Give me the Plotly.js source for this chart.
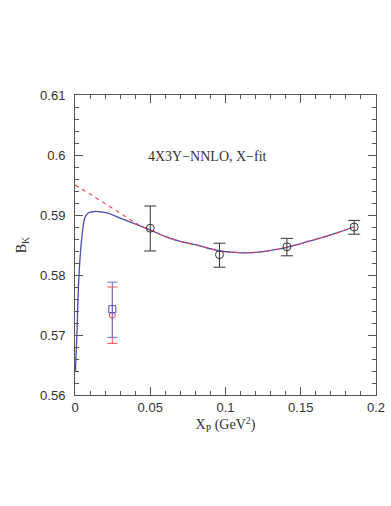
<!DOCTYPE html>
<html>
<head>
<meta charset="utf-8">
<script src="https://cdn.plot.ly/plotly-3.0.1.min.js"></script>
<style>
  body { margin: 0; background: #fff; }
  #plot { width: 391px; height: 506px; }
</style>
</head>
<body>
<div id="plot"></div>
<script>
// lattice points (black)
var ptX = [0.05, 0.096, 0.1408, 0.1855];
var ptY = [0.5878, 0.5834, 0.5847, 0.5880];
var ptErrHi = [0.0037, 0.0019, 0.0014, 0.0011];
var ptErrLo = [0.0038, 0.0021, 0.0015, 0.0012];

// extrapolated values at the physical point
var blueX = [0.0248];
var blueY = [0.5743];
var blueErrHi = [0.0045];
var blueErrLo = [0.0047];
var redX = [0.0248];
var redY = [0.5733];
var redErrHi = [0.0047];
var redErrLo = [0.0047];

// fit curve (blue)
var fitX = [0.0003, 0.0012, 0.0023, 0.0037, 0.0052, 0.0065, 0.0085, 0.011, 0.014, 0.018,
            0.022, 0.028, 0.033, 0.039, 0.044, 0.051, 0.06, 0.07, 0.079, 0.088,
            0.096, 0.105, 0.115, 0.125, 0.135, 0.145, 0.155, 0.165, 0.175, 0.185];
var fitY = [0.5640, 0.5697, 0.5781, 0.5840, 0.5877, 0.5895, 0.5903, 0.5905, 0.5906, 0.5905,
            0.5903, 0.5897, 0.5892, 0.5886, 0.5881, 0.5874, 0.5864, 0.5856, 0.5851, 0.5845,
            0.5840, 0.5838, 0.5837, 0.5839, 0.5843, 0.5849, 0.5856, 0.5863, 0.5871, 0.5880];

// fit without chiral logs (red dashed)
var noLogX = [0, 0.01, 0.02, 0.03, 0.04, 0.045, 0.051, 0.06, 0.07, 0.079, 0.088,
              0.096, 0.105, 0.115, 0.125, 0.135, 0.145, 0.155, 0.165, 0.175, 0.185];
var noLogY = [0.5950, 0.5935, 0.5919, 0.5903, 0.5887, 0.5880, 0.5874, 0.5864, 0.5856, 0.5851, 0.5845,
              0.5840, 0.5838, 0.5837, 0.5839, 0.5843, 0.5849, 0.5856, 0.5863, 0.5871, 0.5880];

var serif = "Liberation Serif, DejaVu Serif, serif";
var sans = "Liberation Sans, Arial, sans-serif";

var traces = [
  {
    x: fitX, y: fitY, mode: "lines", type: "scatter",
    line: { color: "#4a4ab8", width: 1.3, shape: "spline" },
    hoverinfo: "none"
  },
  {
    x: noLogX, y: noLogY, mode: "lines", type: "scatter",
    line: { color: "#ff3b3b", width: 1.1, dash: "4px,4px", shape: "spline" },
    hoverinfo: "none"
  },
  {
    x: redX, y: redY, mode: "markers", type: "scatter",
    marker: { symbol: "circle-open", size: 6, color: "#ff3b3b", line: { width: 1 } },
    error_y: { type: "data", array: redErrHi, arrayminus: redErrLo, color: "#ff4d4d", thickness: 1, width: 5 }
  },
  {
    x: blueX, y: blueY, mode: "markers", type: "scatter",
    marker: { symbol: "square-open", size: 7, color: "#4a4ab8", line: { width: 1 } },
    error_y: { type: "data", array: blueErrHi, arrayminus: blueErrLo, color: "#6a6ac8", thickness: 1, width: 5 }
  },
  {
    x: ptX, y: ptY, mode: "markers", type: "scatter",
    marker: { symbol: "circle-open", size: 8, color: "#333", line: { width: 1 } },
    error_y: { type: "data", array: ptErrHi, arrayminus: ptErrLo, color: "#333", thickness: 1, width: 6 }
  }
];

var axisBase = {
  showgrid: false,
  zeroline: false,
  showline: true,
  linecolor: "#555",
  linewidth: 1,
  mirror: "allticks",
  ticks: "inside",
  ticklen: 8,
  tickcolor: "#555",
  tickfont: { family: sans, size: 13, color: "#333" }
};

var layout = {
  width: 391,
  height: 506,
  margin: { l: 75, r: 15, t: 95, b: 111 },
  paper_bgcolor: "#fff",
  plot_bgcolor: "#fff",
  showlegend: false,
  xaxis: Object.assign({}, axisBase, {
    range: [0, 0.2],
    tickvals: [0, 0.05, 0.1, 0.15, 0.2],
    ticktext: ["0", "0.05", "0.1", "0.15", "0.2"],
    minor: { dtick: 0.01, ticks: "inside", ticklen: 4, tickcolor: "#555" },
    title: { text: "X<sub>P</sub> (GeV<sup>2</sup>)", font: { family: serif, size: 14, color: "#333" }, standoff: 4 }
  }),
  yaxis: Object.assign({}, axisBase, {
    range: [0.56, 0.61],
    tickvals: [0.56, 0.57, 0.58, 0.59, 0.6, 0.61],
    ticktext: ["0.56", "0.57", "0.58", "0.59", "0.6", "0.61"],
    ticklabelstandoff: 6,
    minor: { dtick: 0.002, ticks: "inside", ticklen: 4, tickcolor: "#555" },
    title: { text: "B<sub>K</sub>", font: { family: serif, size: 14, color: "#333" }, standoff: 10 }
  }),
  annotations: [
    {
      x: 0.0883, y: 0.5998, xref: "x", yref: "y",
      text: "4X3Y\u2212NNLO, X\u2212fit",
      showarrow: false,
      font: { family: serif, size: 14, color: "#333" }
    }
  ]
};

Plotly.newPlot("plot", traces, layout, { displayModeBar: false, staticPlot: true });
</script>
</body>
</html>
